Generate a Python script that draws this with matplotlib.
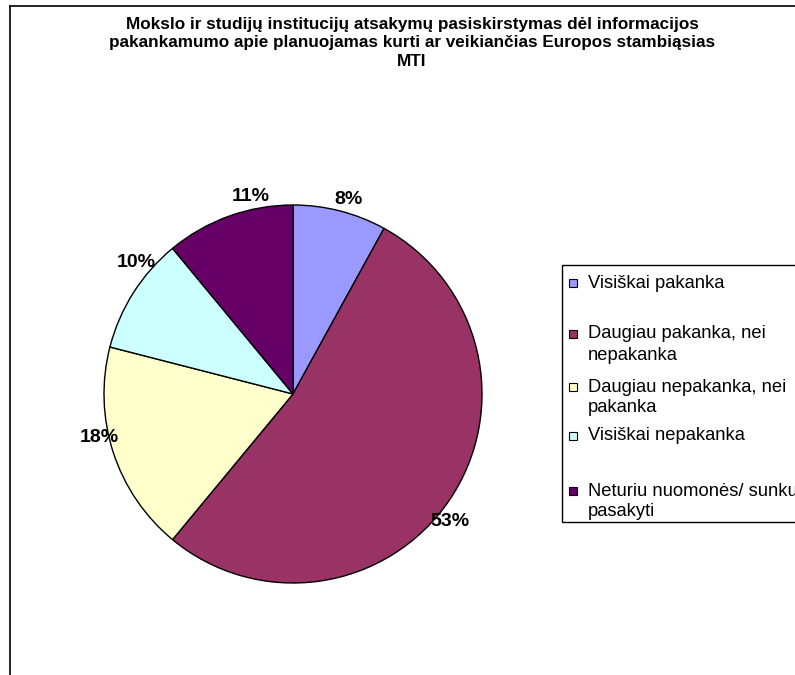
import numpy as np
import matplotlib.pyplot as plt
from matplotlib.patches import Rectangle

plt.rcParams['font.family'] = ['Liberation Sans', 'DejaVu Sans']

# duomenys
kategorijos = ["Visiškai pakanka",
               "Daugiau pakanka, nei\nnepakanka",
               "Daugiau nepakanka, nei\npakanka",
               "Visiškai nepakanka",
               "Neturiu nuomonės/ sunku\npasakyti"]
reiksmes = [8, 53, 18, 10, 11]
spalvos = ["#9999FF", "#993366", "#FFFFCC", "#CCFFFF", "#660066"]
pavadinimas = ("Mokslo ir studijų institucijų atsakymų pasiskirstymas dėl informacijos\n"
               "pakankamumo apie planuojamas kurti ar veikiančias Europos stambiąsias\n"
               "MTI")

# etikeciu isdestymas (Excel "best fit" imitacija)
etik_posukis = [-1.4, -4.8, -5.2, -7.6, -7.8]   # laipsniais
etik_atstumas = [1.07, 1.07, 1.05, 1.08, 1.07]

W, H = 795, 675
fig = plt.figure(figsize=(W / 100, H / 100), dpi=100)

def px(x, y):
    # pikseliai -> figuros koordinates
    return x / W, 1 - y / H

# remelis (tik kaire ir virsus matosi)
fig.add_artist(plt.Line2D([10 / W, 10 / W], [0, 1 - 6 / H], color="black", lw=1.2))
fig.add_artist(plt.Line2D([10 / W, 1], [1 - 6 / H, 1 - 6 / H], color="black", lw=1.2))

fig.text(412 / W, 1 - 43 / H, pavadinimas, ha="center", va="center",
         fontsize=12.35, fontweight="bold", linespacing=1.28)

# pyrago asis
cx, cy, r = 293, 394, 189
ax = fig.add_axes([(cx - r) / W, 1 - (cy + r) / H, 2 * r / W, 2 * r / H])
wedges, texts, autotexts = ax.pie(reiksmes, colors=spalvos, startangle=90, counterclock=False,
                                  autopct="%1.0f%%", pctdistance=1.1,
                                  wedgeprops=dict(edgecolor="black", linewidth=1))
for w, t, dth, d in zip(wedges, autotexts, etik_posukis, etik_atstumas):
    ang = np.deg2rad((w.theta1 + w.theta2) / 2 + dth)
    t.set_position((d * np.cos(ang), d * np.sin(ang)))
    t.set_fontsize(14)
    t.set_fontweight("bold")
ax.set_xlim(-1, 1)
ax.set_ylim(-1, 1)
ax.set_aspect("equal")
ax.axis("off")

# legenda
lx, ly_top, ly_bot = 562, 265, 522
fig.add_artist(Rectangle(px(lx, ly_bot), (W - lx + 5) / W, (ly_bot - ly_top) / H,
                         transform=fig.transFigure, facecolor="white",
                         edgecolor="black", lw=1))
eilutes_y = [283, 334, 387, 436, 491]
for kat, sp, y in zip(kategorijos, spalvos, eilutes_y):
    fig.add_artist(Rectangle(px(569, y + 4), 8 / W, 8 / H, transform=fig.transFigure,
                             facecolor=sp, edgecolor="black", lw=0.8))
    for i, line in enumerate(kat.split("\n")):
        fig.text(588 / W, 1 - (y + 21 * i) / H, line, ha="left", va="center",
                 fontsize=13.2)

fig.savefig("out.png", dpi=100)
